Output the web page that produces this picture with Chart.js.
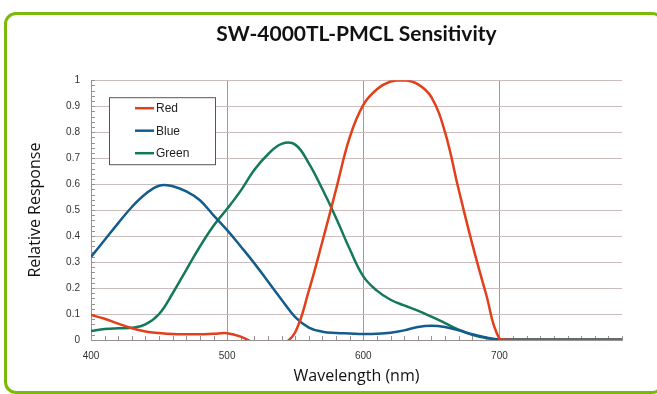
<!DOCTYPE html>
<html>
<head>
<meta charset="utf-8">
<script src="https://cdn.jsdelivr.net/npm/chart.js@4/dist/chart.umd.min.js"></script>
<style>
  html, body { margin: 0; padding: 0; background: #ffffff; overflow: hidden; }
  #wrap { position: relative; width: 657px; height: 394px; overflow: hidden; }
  #frame { position: absolute; left: 4px; top: 12px; width: 654px; height: 376px;
           border: 3px solid #7cba0a; border-radius: 12px; }
  #c { position: absolute; left: 0; top: 0; }
</style>
</head>
<body>
<div id="wrap">
  <div id="frame"></div>
  <canvas id="c" width="657" height="394"></canvas>
</div>
<script>
// ---- data ----
const chartTitle = 'SW-4000TL-PMCL Sensitivity';
const xTitle = 'Wavelength (nm)';
const yTitle = 'Relative Response';
const seriesNames = ['Red', 'Blue', 'Green'];
const wavelengths = [400,410,420,430,440,450,460,470,480,490,500,510,520,530,540,550,560,570,580,590,600,610,620,630,640,650,660,670,680,690,700,710,720,730,740,750,760,770,780,790];
const redValues   = [0.096,0.082,0.063,0.045,0.033,0.027,0.023,0.022,0.022,0.024,0.026,0.013,-0.012,-0.03,-0.02,0.03,0.19,0.38,0.58,0.78,0.905,0.965,0.995,1.0,0.985,0.935,0.8,0.58,0.37,0.18,0.005,0,0,0,0,0,0,0,0,0];
const blueValues  = [0.32,0.385,0.45,0.512,0.562,0.594,0.592,0.572,0.538,0.48,0.423,0.36,0.295,0.225,0.155,0.088,0.048,0.032,0.027,0.025,0.023,0.024,0.028,0.037,0.05,0.055,0.05,0.037,0.022,0.01,0.002,0.001,0.001,0.001,0.001,0.001,0.001,0.001,0.001,0.001];
const greenValues = [0.035,0.042,0.045,0.047,0.06,0.1,0.18,0.27,0.36,0.44,0.505,0.575,0.655,0.715,0.755,0.752,0.68,0.58,0.47,0.35,0.245,0.19,0.155,0.133,0.113,0.09,0.065,0.04,0.02,0.008,0.002,0.002,0.002,0.002,0.002,0.002,0.002,0.002,0.002,0.002];
const xTickLabels = [400, 500, 600, 700];
const yTickLabels = ['0','0.1','0.2','0.3','0.4','0.5','0.6','0.7','0.8','0.9','1'];
const seriesColors = ['#e2401c', '#135c8c', '#127a58'];

const allSeries = [redValues, blueValues, greenValues];

const minorTicks = {
  id: 'minorTicks',
  beforeDatasetsDraw(chart) {
    const {ctx, chartArea, scales} = chart;
    ctx.save();
    ctx.strokeStyle = '#9a9090';
    ctx.lineWidth = 1;
    ctx.beginPath();
    for (let v = 400; v <= 790; v += 10) {
      const px = Math.round(scales.x.getPixelForValue(v)) + 0.5;
      ctx.moveTo(px, chartArea.bottom);
      ctx.lineTo(px, chartArea.bottom - 4);
    }
    for (let i = 0; i <= 50; i++) {
      const py = Math.round(scales.y.getPixelForValue(i * 0.02)) + 0.5;
      ctx.moveTo(chartArea.left, py);
      ctx.lineTo(chartArea.left + 4, py);
    }
    ctx.stroke();
    ctx.restore();
  }
};

const boxLegend = {
  id: 'boxLegend',
  afterDatasetsDraw(chart) {
    const {ctx, chartArea} = chart;
    const x0 = chartArea.left + 18, y0 = chartArea.top + 17;
    const w = 106, h = 67;
    ctx.save();
    ctx.fillStyle = '#ffffff';
    ctx.fillRect(x0, y0, w, h);
    ctx.strokeStyle = '#5a5555';
    ctx.lineWidth = 1;
    ctx.strokeRect(x0 + 0.5, y0 + 0.5, w, h);
    ctx.font = '12px "Liberation Sans", Arial, sans-serif';
    ctx.textBaseline = 'middle';
    ctx.fillStyle = '#222';
    chart.data.datasets.forEach((ds, i) => {
      const yy = y0 + 11 + i * 22.5;
      ctx.strokeStyle = ds.borderColor;
      ctx.lineWidth = 2.5;
      ctx.beginPath();
      ctx.moveTo(x0 + 26, yy);
      ctx.lineTo(x0 + 45, yy);
      ctx.stroke();
      ctx.fillText(ds.label, x0 + 47, yy + 0.5);
    });
    ctx.restore();
  }
};

new Chart(document.getElementById('c'), {
  type: 'line',
  data: {
    datasets: seriesNames.map((name, i) => ({
      label: name,
      data: wavelengths.map((w, j) => ({x: w, y: allSeries[i][j]})),
      borderColor: seriesColors[i],
      backgroundColor: seriesColors[i],
      borderWidth: 2.5,
      pointRadius: 0,
      fill: false,
      tension: 0.4
    }))
  },
  options: {
    responsive: false,
    animation: false,
    events: [],
    layout: { padding: { left: 20, right: 35, top: 22, bottom: 8 } },
    plugins: {
      legend: { display: false },
      tooltip: { enabled: false },
      title: {
        display: true,
        text: chartTitle,
        fullSize: false,
        color: '#111',
        font: { family: 'Lato, "Open Sans", sans-serif', size: 21, weight: 'bold' },
        padding: { top: 0, bottom: 33 }
      }
    },
    scales: {
      x: {
        type: 'linear',
        min: 400, max: 790,
        afterFit(scale) { scale.height = 46; },
        border: { display: true, color: '#9a9090', width: 1 },
        grid: {
          drawTicks: false,
          color: (c) => (c.tick && c.tick.value % 100 === 0 && c.tick.value !== 400) ? '#a89896' : 'rgba(0,0,0,0)',
          lineWidth: 1
        },
        ticks: {
          stepSize: 10,
          autoSkip: false,
          maxRotation: 0,
          padding: 10,
          color: '#333',
          font: { family: '"Liberation Sans", Arial, sans-serif', size: 10 },
          callback: (v) => xTickLabels.includes(v) ? String(v) : ''
        },
        title: {
          display: true,
          text: xTitle,
          color: '#111',
          font: { family: '"Open Sans", sans-serif', size: 16 },
          padding: { top: 0, bottom: 0 }
        }
      },
      y: {
        min: 0, max: 1,
        afterFit(scale) { scale.width = 71; },
        border: { display: true, color: '#9a9090', width: 1 },
        grid: {
          drawTicks: false,
          color: (c) => c.tick && c.tick.value === 0 ? 'rgba(0,0,0,0)' : '#cbbdbb',
          lineWidth: 1
        },
        ticks: {
          stepSize: 0.1,
          padding: 11,
          color: '#333',
          font: { family: '"Liberation Sans", Arial, sans-serif', size: 10 },
          callback: (v, i) => yTickLabels[i]
        },
        title: {
          display: true,
          text: yTitle,
          color: '#111',
          font: { family: '"Open Sans", sans-serif', size: 16 },
          padding: { top: 6, bottom: 0 }
        }
      }
    }
  },
  plugins: [minorTicks, boxLegend]
});
</script>
</body>
</html>
